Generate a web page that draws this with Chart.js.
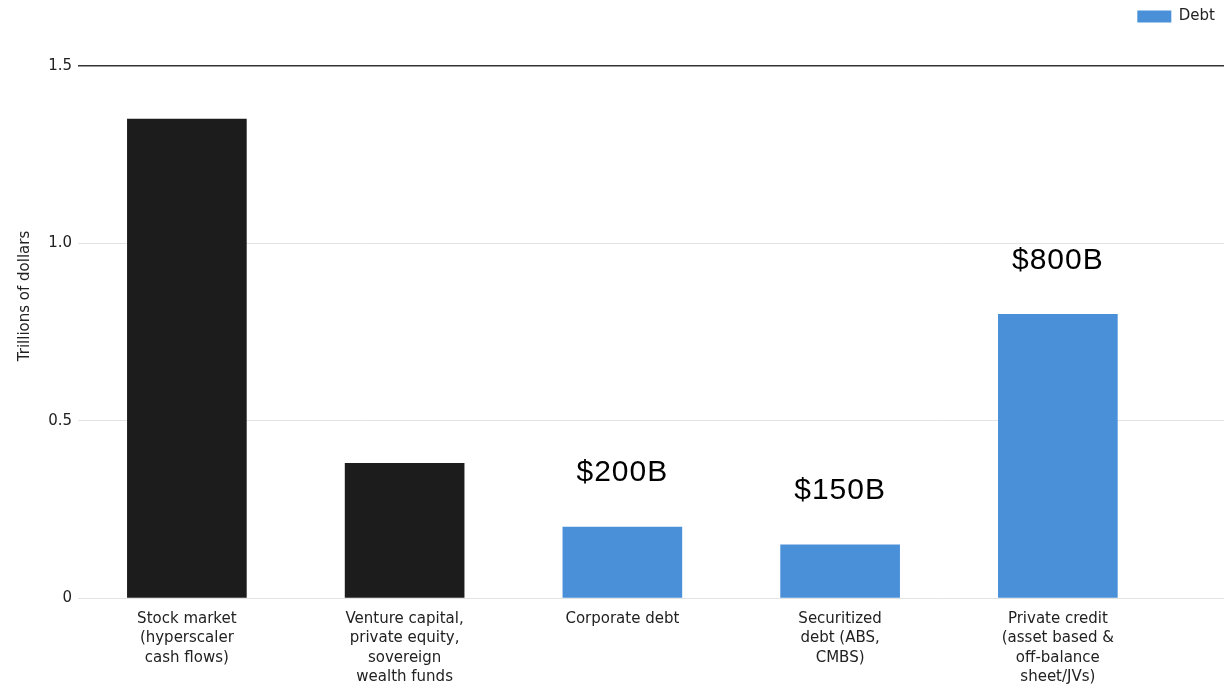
<!DOCTYPE html>
<html>
<head>
<meta charset="utf-8">
<title>Funding sources</title>
<script src="https://cdn.jsdelivr.net/npm/chart.js@4.4.1/dist/chart.umd.min.js"></script>
<style>
  html, body { margin: 0; padding: 0; background: #fff; }
  #wrap { width: 1224px; height: 686px; position: relative; }
</style>
</head>
<body>
<div id="wrap"><canvas id="fundingChart"></canvas></div>
<script>
// categories along the x axis (multi-line labels)
const categories = [
  ["Stock market", "(hyperscaler", "cash flows)"],
  ["Venture capital,", "private equity,", "sovereign", "wealth funds"],
  ["Corporate debt"],
  ["Securitized", "debt (ABS,", "CMBS)"],
  ["Private credit", "(asset based &", "off-balance", "sheet/JVs)"]
];
// trillions of dollars
const equityValues = [1.35, 0.38, null, null, null];
const debtValues = [null, null, 0.2, 0.15, 0.8];
const yTicks = [0, 0.5, 1.0, 1.5];

const toPoints = vals => vals
  .map((v, i) => (v === null ? null : { x: i, y: v }))
  .filter(p => p !== null);

const dollarLabel = v => "$" + Math.round(v * 1000) + "B";

// leave extra room between the legend and the plot
const legendGapPlugin = {
  id: "legendGap",
  beforeUpdate(chart) {
    const legend = chart.legend;
    if (legend && !legend._gapPatched) {
      const baseFit = legend.fit;
      legend.fit = function () {
        baseFit.call(this);
        this.height += 32;
      };
      legend._gapPatched = true;
    }
  }
};

// rotated axis title on the left
const yTitlePlugin = {
  id: "yTitle",
  afterDraw(chart) {
    const ctx = chart.ctx;
    ctx.save();
    ctx.translate(25, 296);
    ctx.rotate(-Math.PI / 2);
    ctx.font = "15px 'DejaVu Sans'";
    ctx.fillStyle = "#222";
    ctx.textAlign = "center";
    ctx.textBaseline = "middle";
    ctx.fillText("Trillions of dollars", 0, 0);
    ctx.restore();
  }
};

// dollar amounts above the debt bars
const valueLabelPlugin = {
  id: "valueLabels",
  afterDatasetsDraw(chart) {
    const ctx = chart.ctx;
    const ds = chart.data.datasets[1];
    const meta = chart.getDatasetMeta(1);
    ctx.save();
    ctx.font = "30px 'Liberation Sans'";
    ctx.letterSpacing = "1px";
    ctx.fillStyle = "#000";
    ctx.textAlign = "center";
    ctx.textBaseline = "middle";
    meta.data.forEach((bar, j) => {
      ctx.fillText(dollarLabel(ds.data[j].y), bar.x, bar.y - 54);
    });
    ctx.restore();
  }
};

const ctx = document.getElementById("fundingChart").getContext("2d");
new Chart(ctx, {
  type: "bar",
  data: {
    datasets: [
      {
        label: "Equity",
        data: toPoints(equityValues),
        backgroundColor: "#1c1c1c",
        barThickness: 119,
        grouped: false
      },
      {
        label: "Debt",
        data: toPoints(debtValues),
        backgroundColor: "#4a90d9",
        barThickness: 119,
        grouped: false
      }
    ]
  },
  options: {
    responsive: true,
    maintainAspectRatio: false,
    animation: false,
    layout: { padding: { left: 0, right: 0, top: 0, bottom: 0 } },
    plugins: {
      tooltip: { enabled: false },
      legend: {
        display: true,
        position: "top",
        align: "end",
        labels: {
          filter: item => item.text === "Debt",
          boxWidth: 34,
          boxHeight: 12,
          padding: 9,
          color: "#222",
          font: { family: "'DejaVu Sans'", size: 15 }
        }
      }
    },
    scales: {
      x: {
        type: "linear",
        min: -0.5,
        max: 4.763,
        offset: false,
        grid: { display: false },
        border: { display: false },
        afterFit: scale => { scale.height = 88; },
        afterBuildTicks: scale => {
          scale.ticks = categories.map((c, i) => ({ value: i }));
        },
        ticks: {
          autoSkip: false,
          maxRotation: 0,
          padding: 4,
          color: "#222",
          font: { family: "'DejaVu Sans'", size: 15, lineHeight: 1.27 },
          callback: value => categories[value]
        }
      },
      y: {
        min: 0,
        max: 1.5,
        afterFit: scale => { scale.width = 78; },
        afterBuildTicks: scale => {
          scale.ticks = yTicks.map(v => ({ value: v }));
        },
        grid: {
          drawTicks: false,
          color: c => (c.tick && c.tick.value === 1.5 ? "#333" : "#e3e3e3"),
          lineWidth: c => (c.tick && c.tick.value === 1.5 ? 1.5 : 1)
        },
        border: { display: false },
        ticks: {
          padding: 6,
          color: "#222",
          font: { family: "'DejaVu Sans'", size: 15 },
          callback: v => (v === 0 ? "0" : v.toFixed(1))
        }
      }
    }
  },
  plugins: [legendGapPlugin, yTitlePlugin, valueLabelPlugin]
});
</script>
</body>
</html>
